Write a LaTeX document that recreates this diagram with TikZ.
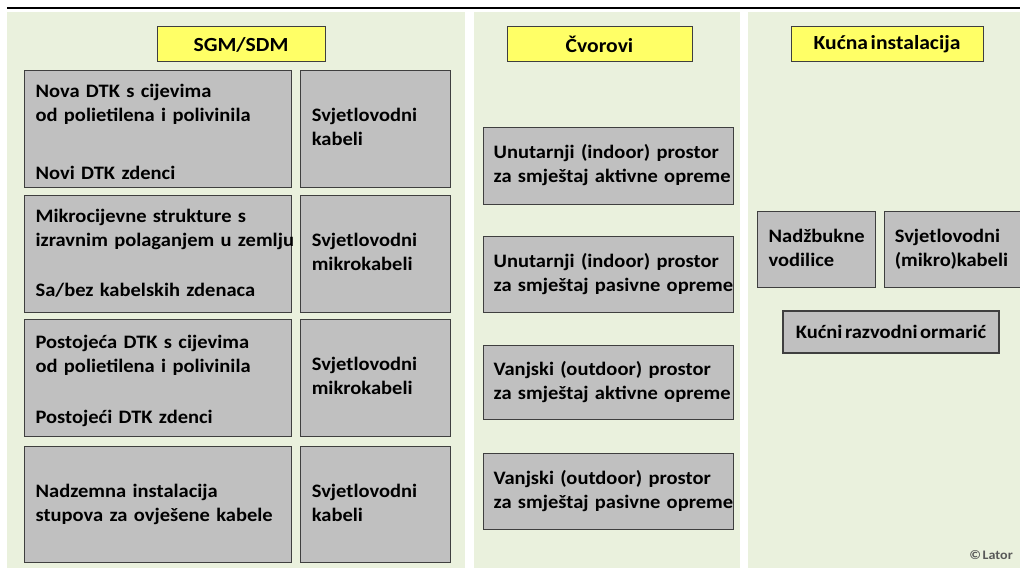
\documentclass[tikz,border=0pt]{standalone}
\usepackage{fontspec}
\setmainfont{Carlito}[FakeStretch=1.08, WordSpace=0.55]
\usetikzlibrary{positioning}
\definecolor{panelgreen}{HTML}{EAF1DD}
\definecolor{cellgray}{HTML}{C0C0C0}
\definecolor{titleyellow}{HTML}{FFFF66}
\definecolor{edgegray}{HTML}{3F3F3F}
\newcommand{\celllines}[2][0pt]{\begin{tabular}{@{}l@{}}\rule{0pt}{\dimexpr16.8pt+#1\relax}#2\end{tabular}}
\tikzset{titlebox/.style = {draw=edgegray, fill=titleyellow, line width=1pt,
                            inner sep=0pt, font=\bfseries\fontsize{20}{24}\selectfont},
         cell/.style = {draw=edgegray, fill=cellgray, line width=1.2pt,
                        anchor=north west, align=left, inner ysep=0pt,
                        font=\bfseries\fontsize{19}{24}\selectfont},
         plaincell/.style = {draw=edgegray, fill=cellgray, line width=1.2pt,
                             inner sep=0pt, font=\bfseries\fontsize{19}{24}\selectfont}}

\begin{document}
\begin{tikzpicture}[x=1pt, y=-1pt]
  \useasboundingbox (0,0) rectangle (1020,572);
  \clip (0,0) rectangle (1020,572);
  \draw [line width=1.5pt] (7,8) -- (1020,8);
  \fill [panelgreen] (7,12) rectangle (465,568);
  \fill [panelgreen] (474,12) rectangle (740,568);
  \fill [panelgreen] (748,12) rectangle (1020,568);
  % SGM/SDM
  \node [titlebox, minimum width=168pt, minimum height=35pt] (sgm) at (241,44.5) {SGM/SDM};
  \node [cell, inner xsep=11pt, text width=245pt, minimum height=117pt] (novadtk) at (24,70)
    {\celllines[10pt]{Nova DTK s cijevima\\ od polietilena i polivinila\\[34pt] Novi DTK zdenci}};
  \node [cell, inner xsep=11pt, text width=128pt, minimum height=117pt, right=8pt of novadtk] (kab1)
    {\celllines{Svjetlovodni\\ kabeli}};
  \node [cell, inner xsep=11pt, text width=245pt, minimum height=117pt] (mikro) at (24,195)
    {\celllines[2pt]{Mikrocijevne strukture s\\ izravnim polaganjem u zemlju\\[26pt] Sa/bez kabelskih zdenaca}};
  \node [cell, inner xsep=11pt, text width=128pt, minimum height=117pt, right=8pt of mikro] (kab2)
    {\celllines{Svjetlovodni\\ mikrokabeli}};
  \node [cell, inner xsep=11pt, text width=245pt, minimum height=117pt] (postdtk) at (24,319)
    {\celllines[6pt]{Postojeća DTK s cijevima\\ od polietilena i polivinila\\[27pt] Postojeći DTK zdenci}};
  \node [cell, inner xsep=11pt, text width=128pt, minimum height=117pt, right=8pt of postdtk] (kab3)
    {\celllines{Svjetlovodni\\ mikrokabeli}};
  \node [cell, inner xsep=11pt, text width=245pt, minimum height=116pt] (nadzemna) at (24,446)
    {\celllines{Nadzemna instalacija\\ stupova za ovješene kabele}};
  \node [cell, inner xsep=11pt, text width=128pt, minimum height=116pt, right=8pt of nadzemna] (kab4)
    {\celllines{Svjetlovodni\\ kabeli}};
  % Cvorovi
  \node [titlebox, minimum width=185pt, minimum height=35pt] (cvorovi) at (599.5,44.5) {Čvorovi};
  \node [cell, inner xsep=10pt, text width=230pt, minimum height=77pt] (inakt) at (483,127)
    {\celllines{Unutarnji (indoor) prostor\\ za smještaj aktivne opreme}};
  \node [cell, inner xsep=10pt, text width=230pt, minimum height=76pt] (inpas) at (483,236)
    {\celllines{Unutarnji (indoor) prostor\\ za smještaj pasivne opreme}};
  \node [cell, inner xsep=10pt, text width=230pt, minimum height=74pt] (outakt) at (483,345)
    {\celllines{Vanjski (outdoor) prostor\\ za smještaj aktivne opreme}};
  \node [cell, inner xsep=10pt, text width=230pt, minimum height=76pt] (outpas) at (483,453)
    {\celllines{Vanjski (outdoor) prostor\\ za smještaj pasivne opreme}};
  % Kucna instalacija
  \node [titlebox, minimum width=192pt, minimum height=35pt] (kucna) at (887,44.5) {Kućna instalacija};
  \node [cell, inner xsep=11pt, text width=96pt, minimum height=76pt] (vodilice) at (757,211)
    {\celllines{Nadžbukne\\ vodilice}};
  \node [cell, inner xsep=10pt, text width=125pt, minimum height=76pt, right=8pt of vodilice] (mikrokab)
    {\celllines{Svjetlovodni\\ (mikro)kabeli}};
  \node [plaincell, minimum width=216pt, minimum height=42pt] (ormaric) at (891,332)
    {Kućni razvodni ormarić};
  \node [text=black!65, font=\bfseries\fontsize{13}{15}\selectfont] (lator) at (991,555) {© Lator};
\end{tikzpicture}
\end{document}
